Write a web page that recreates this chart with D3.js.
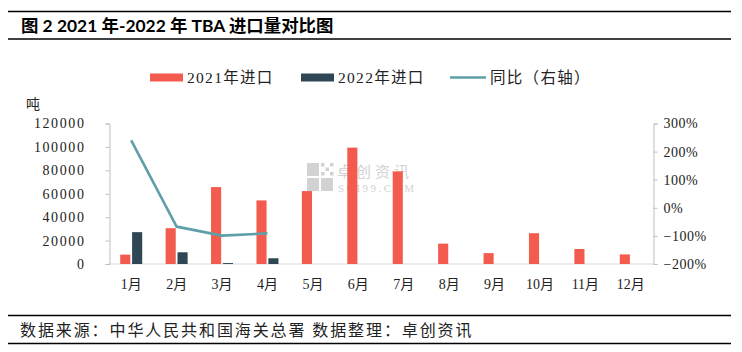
<!DOCTYPE html>
<html><head><meta charset="utf-8">
<script src="https://cdn.jsdelivr.net/npm/d3@7"></script>
<style>
body{margin:0;background:#fff;}
svg{display:block;}
</style></head>
<body>
<svg id="c" width="742" height="352"></svg>
<script>
const months = ["1月","2月","3月","4月","5月","6月","7月","8月","9月","10月","11月","12月"];
const imports2021 = [8000,30600,65700,54300,62300,99400,79100,17400,9300,26300,12800,8200];
const imports2022 = [27200,10000,800,4900,null,null,null,null,null,null,null,null];
const yoy = [240,-67,-99,-91];
const leftTicks = [0,20000,40000,60000,80000,100000,120000];
const rightTicks = [-200,-100,0,100,200,300];
const seriesNames = ["2021年进口","2022年进口","同比（右轴）"];
const colors = {"2021":"#F45B4F","2022":"#2F4655",line:"#5E9FA8"};

const svg = d3.select("#c");
const serif = "'Liberation Serif','Noto Sans CJK SC',serif";

// frame lines
const hl = (y)=>svg.append("line").attr("x1",8).attr("x2",731).attr("y1",y).attr("y2",y).attr("stroke","#000").attr("stroke-width",1.3);
hl(11.5); hl(39); hl(315.5); hl(343.5);

svg.append("text").attr("x",21).attr("y",32).attr("font-family","Lato,'Noto Sans CJK SC',sans-serif")
  .attr("font-weight","bold").attr("font-size",17.4).attr("fill","#000")
  .text("图 2 2021 年-2022 年 TBA 进口量对比图");

svg.append("text").attr("x",20).attr("y",336).attr("font-family",serif)
  .attr("font-size",16).attr("letter-spacing",1.9).attr("fill","#222")
  .text("数据来源：中华人民共和国海关总署 数据整理：卓创资讯");

const x = d3.scaleBand().domain(months).range([108.5,653.5]).padding(0);
const x1 = d3.scaleBand().domain(["2021","2022"]).range([-11,11]).paddingInner(0.15);
const y = d3.scaleLinear().domain([0,120000]).range([264,123.5]);
const yr = d3.scaleLinear().domain([-200,300]).range([264,123.5]);

// watermark
const wm = svg.append("g").attr("fill","#d2d2d2");
[[0,0],[14,0],[0,15],[14,15]].forEach(([dx,dy],i)=>{
  if(i===1){
    for(let a=0;a<3;a++)for(let b=0;b<3;b++) if((a+b)%2===0) wm.append("rect").attr("x",307+dx+a*4.5).attr("y",163+dy+b*4.5).attr("width",3.5).attr("height",3.5);
  } else wm.append("rect").attr("x",307+dx).attr("y",163+dy).attr("width",12).attr("height",13);
});
wm.append("text").attr("x",337).attr("y",177).attr("font-family",serif).attr("font-size",15).attr("letter-spacing",4).text("卓创资讯");
wm.append("text").attr("x",338).attr("y",192).attr("font-family",serif).attr("font-size",11).attr("letter-spacing",2.5).text("SCI99.COM");

// x baseline
svg.append("line").attr("x1",108.5).attr("x2",653.5).attr("y1",264).attr("y2",264).attr("stroke","#d9d9d9").attr("stroke-width",1);

// left axis
const ga = svg.append("g").attr("transform","translate(109.5,0)")
  .call(d3.axisLeft(y).tickValues(leftTicks).tickSize(4).tickPadding(20).tickFormat(d3.format("d")));
ga.select(".domain").attr("stroke","#bfbfbf");
ga.selectAll(".tick line").attr("stroke","#bfbfbf");
ga.selectAll("text").attr("font-family",serif).attr("font-size",14).attr("fill","#222").attr("letter-spacing",1.6);

// right axis
const gr = svg.append("g").attr("transform","translate(653.5,0)")
  .call(d3.axisRight(yr).tickValues(rightTicks).tickSize(4).tickPadding(6).tickFormat(d=>(d<0?"−":"")+Math.abs(d)+"%"));
gr.select(".domain").attr("stroke","#bfbfbf");
gr.selectAll(".tick line").attr("stroke","#bfbfbf");
gr.selectAll("text").attr("font-family",serif).attr("font-size",14).attr("fill","#222").attr("letter-spacing",0.5);

// x labels
const gx = svg.append("g").attr("transform","translate(0,264)")
  .call(d3.axisBottom(x).tickSize(0).tickPadding(15));
gx.select(".domain").remove();
gx.selectAll("text").attr("font-family",serif).attr("font-size",14).attr("fill","#222");

svg.append("text").attr("x",26).attr("y",109).attr("font-family",serif).attr("font-size",14).attr("fill","#222").text("吨");

// bars
const bars = svg.append("g");
months.forEach((m,i)=>{
  [["2021",imports2021[i]],["2022",imports2022[i]]].forEach(([s,v])=>{
    if(v==null) return;
    bars.append("rect").attr("x",x(m)+x.bandwidth()/2+x1(s)).attr("width",x1.bandwidth())
      .attr("y",y(v)).attr("height",y(0)-y(v)).attr("fill",colors[s]);
  });
});

// line
const line = d3.line().x((d,i)=>x(months[i])+x.bandwidth()/2).y(d=>yr(d));
svg.append("path").datum(yoy).attr("d",line).attr("fill","none").attr("stroke",colors.line).attr("stroke-width",2.6).attr("stroke-linejoin","round");

// legend
const lg = svg.append("g");
const legendItems = [
  {name:seriesNames[0],x:150,type:"rect",c:colors["2021"]},
  {name:seriesNames[1],x:301,type:"rect",c:colors["2022"]},
  {name:seriesNames[2],x:450,type:"line",c:colors.line}
];
legendItems.forEach(it=>{
  if(it.type==="rect") lg.append("rect").attr("x",it.x).attr("y",73.5).attr("width",33).attr("height",8).attr("fill",it.c);
  else lg.append("line").attr("x1",it.x).attr("x2",it.x+36).attr("y1",77.5).attr("y2",77.5).attr("stroke",it.c).attr("stroke-width",2.6);
  lg.append("text").attr("x",it.x+(it.type==="rect"?37:40)).attr("y",83).attr("font-family",serif).attr("font-size",15.5).attr("letter-spacing",1.3).attr("fill","#222").text(it.name);
});
</script>
</body></html>
